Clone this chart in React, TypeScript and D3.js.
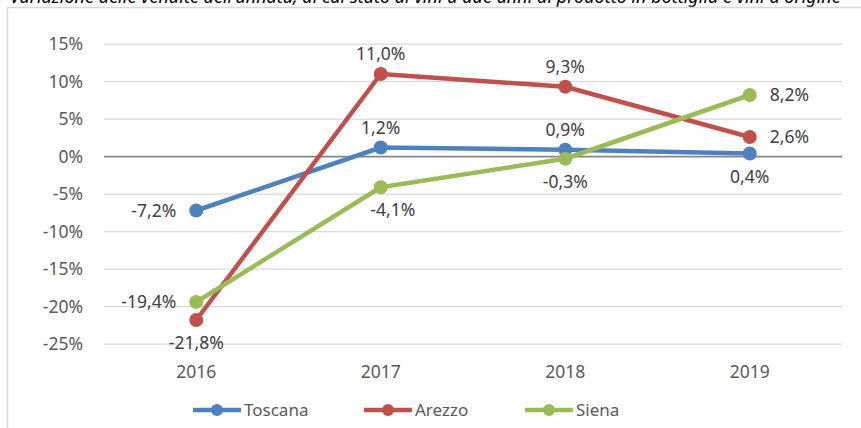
import React from "react";
import * as d3 from "d3";

const years = ["2016", "2017", "2018", "2019"];
const toscana = [-7.2, 1.2, 0.9, 0.4];
const arezzo = [-21.8, 11.0, 9.3, 2.6];
const siena = [-19.4, -4.1, -0.3, 8.2];
const yTicks = [15, 10, 5, 0, -5, -10, -15, -20, -25];
const seriesNames = ["Toscana", "Arezzo", "Siena"];
// label placement per point: "l" left, "r" right, "t" above, "b" below, "br" below-right
const toscanaPos = ["l", "t", "t", "b"];
const arezzoPos = ["b", "t", "t", "r"];
const sienaPos = ["l", "br", "b", "r"];

const W = 861;
const H = 428;
const FONT = "'Noto Sans', sans-serif";
const FS = 17.5;

export default function App() {
  const x = d3.scaleBand<string>().domain(years).range([104, 842]);
  const y = d3.scaleLinear().domain([-25, 15]).range([344, 44]);
  const fmt = (v: number) => v.toFixed(1).replace(".", ",") + "%";

  const series = [
    { name: seriesNames[0], values: toscana, pos: toscanaPos, color: "#4F81BD" },
    { name: seriesNames[1], values: arezzo, pos: arezzoPos, color: "#C0504D" },
    { name: seriesNames[2], values: siena, pos: sienaPos, color: "#9BBB59" },
  ];
  const cx = (c: string) => (x(c) as number) + x.bandwidth() / 2;
  const line = d3
    .line<number>()
    .x((_, i) => cx(years[i]))
    .y((d) => y(d));

  const legendX = [193, 364, 525];

  return (
    <svg width={W} height={H} style={{ position: "absolute", left: 0, top: 0, background: "#fff" }}>
      <rect x={0} y={0} width={W} height={H} fill="#fff" />
      <text x={10} y={3} fontFamily={FONT} fontStyle="italic" fontSize={18} fill="#000">
        Variazione delle vendite dell'annata, di cui stato di vini a due anni di prodotto in bottiglia e vini a origine
      </text>
      <rect x={7.5} y={7.5} width={870} height={440} fill="none" stroke="#D9D9D9" strokeWidth={1.5} />
      {yTicks.map((t) => (
        <g key={t}>
          <line
            x1={104}
            x2={842}
            y1={y(t)}
            y2={y(t)}
            stroke={t === 0 ? "#868686" : "#D9D9D9"}
            strokeWidth={t === 0 ? 1.75 : 1.25}
          />
          <text x={83} y={y(t)} dy="0.35em" textAnchor="end" fontFamily={FONT} fontSize={FS} fill="#595959">
            {t}%
          </text>
        </g>
      ))}
      {years.map((c) => (
        <text key={c} x={cx(c)} y={372} dy="0.35em" textAnchor="middle" fontFamily={FONT} fontSize={FS} fill="#595959">
          {c}
        </text>
      ))}
      {series.map((s) => (
        <g key={s.name}>
          <path d={line(s.values) || ""} fill="none" stroke={s.color} strokeWidth={4.5} strokeLinejoin="round" />
          {s.values.map((v, i) => (
            <circle key={i} cx={cx(years[i])} cy={y(v)} r={7} fill={s.color} />
          ))}
        </g>
      ))}
      {series.map((s) =>
        s.values.map((v, i) => {
          const px = cx(years[i]);
          const py = y(v);
          const p = s.pos[i];
          let tx = px;
          let ty = py;
          let anchor: "start" | "middle" | "end" = "middle";
          if (p === "l") {
            tx = px - 20;
            anchor = "end";
          } else if (p === "r") {
            tx = px + 20;
            anchor = "start";
          } else if (p === "t") {
            ty = py - 20;
          } else {
            ty = py + 23;
            if (p === "br") tx = px + 12;
          }
          return (
            <text
              key={s.name + i}
              x={tx}
              y={ty}
              dy="0.35em"
              textAnchor={anchor}
              fontFamily={FONT}
              fontSize={FS}
              fill="#404040"
            >
              {fmt(v)}
            </text>
          );
        })
      )}
      {series.map((s, i) => (
        <g key={"lg" + s.name}>
          <line x1={legendX[i]} x2={legendX[i] + 48} y1={410} y2={410} stroke={s.color} strokeWidth={4.5} />
          <circle cx={legendX[i] + 24} cy={410} r={6} fill={s.color} />
          <text x={legendX[i] + 51} y={410} dy="0.35em" fontFamily={FONT} fontSize={17} fill="#595959">
            {s.name}
          </text>
        </g>
      ))}
    </svg>
  );
}
